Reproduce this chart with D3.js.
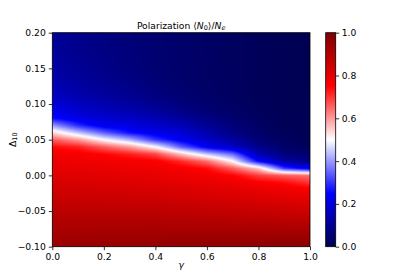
<!DOCTYPE html>
<html><head><meta charset="utf-8">
<script src="https://cdn.jsdelivr.net/npm/d3@7"></script>
<style>body{margin:0;background:#fff}svg{display:block;font-family:"DejaVu Sans",sans-serif}</style>
</head><body><svg id="c" width="415" height="277"></svg>
<script>
// ---- data ----
const gammas = [0, 0.1, 0.2, 0.3, 0.4, 0.5, 0.6, 0.7, 0.8, 0.9, 1.0];
const deltas = [0.20,0.19,0.18,0.17,0.16,0.15,0.14,0.13,0.12,0.11,0.10,0.09,0.08,0.07,0.06,0.05,0.04,0.03,0.02,0.01,0.00,
                -0.01,-0.02,-0.03,-0.04,-0.05,-0.06,-0.07,-0.08,-0.09,-0.10];
// polarization <N0>/Ne : one row per delta (top to bottom), one column per gamma
const polarization = [
 [0.103,0.086,0.072,0.060,0.048,0.040,0.032,0.025,0.018,0.012,0.008],
 [0.105,0.088,0.073,0.060,0.049,0.040,0.032,0.025,0.018,0.012,0.008],
 [0.109,0.090,0.074,0.061,0.049,0.041,0.032,0.025,0.018,0.012,0.008],
 [0.113,0.093,0.077,0.063,0.050,0.041,0.033,0.025,0.018,0.012,0.008],
 [0.118,0.097,0.079,0.064,0.051,0.041,0.033,0.025,0.018,0.012,0.008],
 [0.124,0.102,0.083,0.067,0.052,0.042,0.033,0.026,0.018,0.012,0.008],
 [0.132,0.108,0.088,0.072,0.055,0.043,0.034,0.026,0.018,0.012,0.008],
 [0.141,0.116,0.095,0.078,0.059,0.045,0.035,0.026,0.018,0.012,0.008],
 [0.153,0.126,0.104,0.087,0.065,0.049,0.037,0.027,0.018,0.012,0.009],
 [0.170,0.142,0.117,0.100,0.075,0.056,0.041,0.029,0.019,0.012,0.009],
 [0.200,0.160,0.135,0.115,0.090,0.066,0.047,0.032,0.020,0.013,0.009],
 [0.225,0.185,0.158,0.140,0.115,0.082,0.058,0.038,0.022,0.013,0.009],
 [0.260,0.215,0.188,0.170,0.145,0.110,0.075,0.048,0.026,0.014,0.010],
 [0.400,0.290,0.225,0.210,0.180,0.150,0.100,0.063,0.032,0.016,0.010],
 [0.540,0.440,0.340,0.260,0.220,0.190,0.135,0.080,0.040,0.019,0.011],
 [0.660,0.600,0.500,0.420,0.300,0.230,0.175,0.115,0.055,0.025,0.013],
 [0.740,0.720,0.660,0.600,0.500,0.340,0.230,0.170,0.085,0.038,0.020],
 [0.771,0.765,0.745,0.720,0.680,0.560,0.440,0.350,0.140,0.070,0.040],
 [0.785,0.779,0.773,0.766,0.759,0.710,0.640,0.500,0.250,0.120,0.080],
 [0.799,0.794,0.788,0.782,0.776,0.765,0.740,0.660,0.550,0.300,0.220],
 [0.812,0.808,0.804,0.798,0.793,0.783,0.773,0.750,0.690,0.660,0.640],
 [0.826,0.823,0.819,0.814,0.810,0.801,0.793,0.782,0.760,0.740,0.700],
 [0.840,0.837,0.834,0.830,0.827,0.819,0.812,0.803,0.791,0.780,0.766],
 [0.854,0.852,0.850,0.847,0.844,0.838,0.832,0.824,0.814,0.804,0.793],
 [0.868,0.866,0.865,0.863,0.861,0.856,0.851,0.845,0.837,0.829,0.820],
 [0.881,0.881,0.880,0.879,0.878,0.874,0.871,0.866,0.860,0.854,0.846],
 [0.895,0.895,0.896,0.895,0.895,0.892,0.890,0.887,0.883,0.878,0.873],
 [0.909,0.910,0.911,0.911,0.912,0.910,0.910,0.908,0.905,0.903,0.900],
 [0.923,0.924,0.926,0.927,0.929,0.929,0.929,0.929,0.928,0.928,0.927],
 [0.936,0.939,0.941,0.943,0.945,0.947,0.949,0.950,0.951,0.953,0.953],
 [0.950,0.953,0.956,0.959,0.962,0.965,0.968,0.971,0.974,0.977,0.980]
];
const xTicks = [0, 0.2, 0.4, 0.6, 0.8, 1.0];
const yTicks = [-0.10, -0.05, 0.00, 0.05, 0.10, 0.15, 0.20];
const cbTicks = [0, 0.2, 0.4, 0.6, 0.8, 1.0];
const seismicStops = [0, 0.25, 0.5, 0.75, 1];
const seismicColors = ["rgb(0,0,77)", "rgb(0,0,255)", "rgb(255,255,255)", "rgb(255,0,0)", "rgb(128,0,0)"];

// ---- layout ----
const L = 52.3, T = 32.7, W = 257.7, H = 214;
const CBX = 325.7, CBW = 10;
const FS = 9.2;

const svg = d3.select("#c");
const x = d3.scaleLinear().domain([0, 1]).range([L, L + W]);
const y = d3.scaleLinear().domain([-0.1, 0.2]).range([T + H, T]);
const color = d3.scaleLinear().domain(seismicStops).range(seismicColors).clamp(true);
const gi = d3.scaleLinear().domain(d3.extent(gammas)).range([0, gammas.length - 1]).clamp(true);
const di = d3.scaleLinear().domain([deltas[0], deltas[deltas.length - 1]]).range([0, deltas.length - 1]).clamp(true);

// ---- heatmap (bilinear) ----
const cw = Math.round(W), ch = Math.round(H);
const canvas = document.createElement("canvas");
canvas.width = cw; canvas.height = ch;
const ctx = canvas.getContext("2d");
const img = ctx.createImageData(cw, ch);
for (let py = 0; py < ch; py++) {
  const dv = y.invert(T + (py + 0.5) * H / ch);
  const fr = di(dv), r0 = Math.floor(fr), r1 = Math.min(r0 + 1, deltas.length - 1), tr = fr - r0;
  for (let px = 0; px < cw; px++) {
    const gv = x.invert(L + (px + 0.5) * W / cw);
    const fc = gi(gv), c0 = Math.floor(fc), c1 = Math.min(c0 + 1, gammas.length - 1), tc = fc - c0;
    const v = (1 - tr) * ((1 - tc) * polarization[r0][c0] + tc * polarization[r0][c1]) +
              tr * ((1 - tc) * polarization[r1][c0] + tc * polarization[r1][c1]);
    const c = d3.rgb(color(v));
    const k = (py * cw + px) * 4;
    img.data[k] = c.r; img.data[k + 1] = c.g; img.data[k + 2] = c.b; img.data[k + 3] = 255;
  }
}
ctx.putImageData(img, 0, 0);
svg.append("image").attr("x", L).attr("y", T).attr("width", W).attr("height", H)
  .attr("preserveAspectRatio", "none").attr("href", canvas.toDataURL());

// ---- axes ----
function styleAxis(g) {
  g.select(".domain").remove();
  g.selectAll("text").attr("font-size", FS).attr("font-family", "DejaVu Sans").attr("fill", "#000");
  g.selectAll("line").attr("stroke", "#000").attr("stroke-width", 0.8);
}
svg.append("g").attr("transform", `translate(0,${T + H})`)
  .call(d3.axisBottom(x).tickValues(xTicks).tickFormat(d3.format(".1f")).tickSize(3.5).tickPadding(3))
  .call(styleAxis);
svg.append("g").attr("transform", `translate(${L},0)`)
  .call(d3.axisLeft(y).tickValues(yTicks).tickFormat(d3.format(".2f")).tickSize(3.5).tickPadding(3))
  .call(styleAxis);
svg.append("rect").attr("x", L).attr("y", T).attr("width", W).attr("height", H)
  .attr("fill", "none").attr("stroke", "#000").attr("stroke-width", 0.8);

// ---- colorbar ----
const grad = svg.append("defs").append("linearGradient").attr("id", "seis")
  .attr("x1", 0).attr("y1", 1).attr("x2", 0).attr("y2", 0);
grad.selectAll("stop").data(seismicStops).join("stop")
  .attr("offset", d => d).attr("stop-color", (d, i) => seismicColors[i]);
const cy = d3.scaleLinear().domain([0, 1]).range([T + H, T]);
svg.append("rect").attr("x", CBX).attr("y", T).attr("width", CBW).attr("height", H).attr("fill", "url(#seis)");
svg.append("g").attr("transform", `translate(${CBX + CBW},0)`)
  .call(d3.axisRight(cy).tickValues(cbTicks).tickFormat(d3.format(".1f")).tickSize(3.5).tickPadding(2.5))
  .call(styleAxis);
svg.append("rect").attr("x", CBX).attr("y", T).attr("width", CBW).attr("height", H)
  .attr("fill", "none").attr("stroke", "#000").attr("stroke-width", 0.8);

// ---- labels ----
const title = svg.append("text").attr("x", L + W / 2).attr("y", T - 4).attr("text-anchor", "middle")
  .attr("font-size", 9.2);
title.append("tspan").text("Polarization ⟨");
title.append("tspan").attr("font-style", "italic").text("N");
title.append("tspan").attr("font-size", 6.5).attr("dy", 1.7).text("0");
title.append("tspan").attr("dy", -1.7).text("⟩/");
title.append("tspan").attr("font-style", "italic").text("N");
title.append("tspan").attr("font-size", 6.5).attr("dy", 1.7).attr("font-style", "italic").text("e");

svg.append("text").attr("x", x(0.5)).attr("y", 268).attr("text-anchor", "middle")
  .attr("font-size", FS).attr("font-style", "italic").text("γ");

const yl = svg.append("text").attr("transform", `translate(15.5,${T + H / 2}) rotate(-90)`)
  .attr("text-anchor", "middle").attr("font-size", FS);
yl.append("tspan").text("Δ");
yl.append("tspan").attr("font-size", 6.5).attr("dy", 1.8).text("10");
</script></body></html>
